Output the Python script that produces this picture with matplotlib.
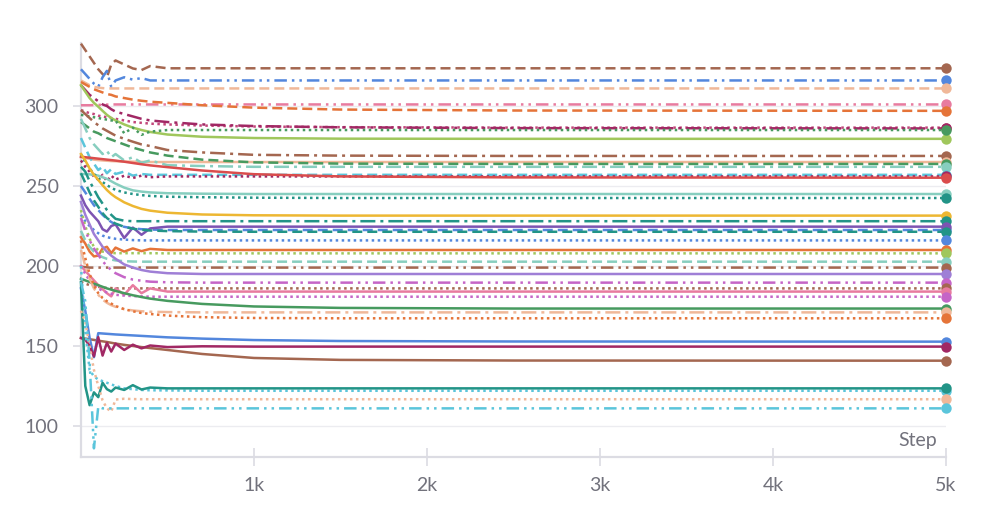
import numpy as np
import matplotlib.pyplot as plt

plt.rcParams['font.family'] = ['Lato', 'DejaVu Sans']

steps = [0, 25, 50, 75, 100, 125, 150, 175, 200, 250, 300, 350, 400, 500, 700, 1000, 1500, 2500, 5000]

brown_dashed = [339, 335, 331, 327, 323, 320, 318, 326, 328.5, 326, 323.5, 322.5, 325, 323.6, 323.6, 323.6, 323.6, 323.6, 323.6]
blue_dashdotdot = [323, 320, 317, 314, 312, 318, 322, 312, 316, 318, 316.5, 317.5, 316, 316, 316, 316, 316, 316, 316]
peach_dashed = [316, 314.5, 313, 312, 311.5, 311.2, 311, 311, 311, 311, 311, 311, 311, 311, 311, 311, 311, 311, 311]
pink_dashdotdot = [300.5, 300.5, 300.5, 300.6, 300.7, 300.8, 300.9, 301, 301, 301, 301, 301, 301, 301, 301, 301, 301, 301, 301]
orange_dashed = [315, 313.5, 312, 310.5, 309.5, 308.5, 307.5, 307, 306, 305, 304, 303.3, 302.7, 302, 300.5, 299, 297.8, 297.2, 297]
maroon_dashdot = [313, 310, 307, 305, 303, 301, 300, 298, 296.5, 295, 293.5, 292, 291, 290, 288.5, 287.5, 286.7, 286.2, 286]
crimson_dotted = [297.5, 296.5, 295.5, 295, 294, 293.5, 293, 292.5, 292, 291, 290, 289.5, 289, 288.5, 287.8, 287.2, 286.8, 286.5, 286.5]
lightgreen_solid = [313, 309, 305, 302, 299.6, 297, 294.5, 292.5, 291, 288.5, 286.5, 285, 283.8, 282.2, 280.8, 280, 279.6, 279.5, 279.5]
green_dotted = [294.5, 294, 293.5, 293, 292.5, 292, 291.5, 291, 291, 283, 286.5, 282, 284, 285, 285, 285, 285, 285, 285]
brown_dashdot = [297.5, 295, 292.5, 290, 288, 286, 284.5, 283, 281.5, 279.5, 277.7, 276, 275, 272.5, 271, 269.5, 269, 268.8, 268.8]
salmon_solid = [268, 267.5, 267, 266.5, 266.2, 266, 265.8, 265.6, 265.5, 265.3, 265.2, 265.1, 265, 265, 265, 265, 265, 265, 265]
green_dashed = [290, 288, 286, 284, 283, 281.5, 280, 279, 278, 276, 274, 272.5, 271, 269, 266.5, 264.8, 264, 263.8, 263.8]
lightteal_dashdot = [292, 286, 280, 276, 273, 270, 272, 268, 270, 266, 268, 264.5, 266, 263, 262.5, 262, 262, 262, 262]
cyan_dashed = [280, 274, 268, 264, 260, 262, 258, 260.5, 257.5, 259, 256.5, 257.5, 257, 257, 257, 257, 257, 257, 257]
red_solid = [268.3, 268, 267.7, 267.4, 267.1, 266.8, 266.5, 266.2, 265.9, 265.2, 264.4, 263.6, 262.9, 261.8, 259.7, 257.4, 256, 255.4, 255.2]
maroon_dotted = [266, 262, 259, 256, 254, 257, 253, 256.5, 254, 256.5, 255, 256.5, 255.5, 256, 256, 256, 256, 256, 256]
lightteal_solid = [257.5, 257.5, 257.3, 257, 256.5, 255.5, 254.5, 253, 251.5, 249, 247.3, 246.5, 246, 245.5, 245.2, 245, 245, 245, 245]
teal_dotted = [270, 265, 261, 257.5, 255, 252.5, 250.5, 249, 247.5, 246, 245, 244.3, 243.8, 243.3, 243, 242.7, 242.5, 242.5, 242.5]
yellow_solid = [270, 266, 261, 257, 253.8, 250.5, 247.5, 245, 243, 239.8, 237.5, 235.7, 234.6, 233.3, 232.2, 231.7, 231.5, 231.5, 231.5]
teal_dashdot = [262, 259, 253, 248, 243, 239, 235, 232, 229.5, 228.3, 228, 228, 228, 228, 228, 228, 228, 228, 228]
purple_solid = [244, 238, 234, 231, 228, 223, 221.5, 225, 226, 217.5, 224, 219.5, 223.5, 224.6, 224.6, 224.6, 224.6, 224.6, 224.6]
teal_dashed = [258, 252, 246, 241, 237, 233, 230, 228, 226.5, 224.5, 223.3, 222.6, 222.2, 221.8, 221.5, 221.4, 221.4, 221.4, 221.4]
blue_dashed = [250, 246, 242, 238, 235, 232, 229.5, 227.5, 226, 224.5, 223.5, 223, 222.8, 222.5, 222.5, 222.5, 222.5, 222.5, 222.5]
blue_dotted = [232, 228, 225, 222.5, 220.5, 219, 218, 217.5, 217, 216.5, 216.2, 216, 216, 216, 216, 216, 216, 216, 216]
orange_solid = [218, 214, 209, 206, 206.5, 211, 212, 208, 211.5, 209, 211, 209.3, 210.7, 210, 210, 210, 210, 210, 210]
lightgreen_dotted = [235, 225, 217, 212, 210, 209, 208.5, 208.2, 208, 208, 208, 208, 208, 207.9, 207.9, 207.9, 207.9, 207.9, 207.9]
lightteal_dashed = [222, 216, 212, 209, 207, 205.5, 204.5, 204, 203.5, 203, 202.8, 202.7, 202.7, 202.7, 202.7, 202.7, 202.7, 202.7, 202.7]
brown_dashdotdot = [199.6, 199.3, 199, 199, 199, 199, 199, 199, 199, 199, 199, 199, 199, 199, 199, 199, 199, 199, 199]
violet_solid = [240, 232, 226, 220, 216, 212, 209, 206.5, 204.5, 201, 199, 197.5, 196.5, 195.5, 195, 195, 195, 195, 195]
orchid_dashdotdot = [230, 222, 216, 211, 207, 203, 200, 197.5, 195.5, 193, 191.5, 190.8, 190.2, 189.8, 189.6, 189.6, 189.6, 189.6, 189.6]
tan_dotted = [190, 189, 188, 187.5, 187, 186.5, 186.3, 186.2, 186, 186, 186, 186, 186, 186, 186, 186, 186, 186, 186]
pink_solid = [200, 197, 194, 191, 188, 185.5, 183, 181, 186, 182, 188, 183, 186, 184, 184, 184, 184, 184, 184]
orchid_dotted = [200, 195, 191, 188, 186, 184.5, 183.5, 182.7, 182, 181.5, 181.2, 181, 180.8, 180.8, 180.8, 180.8, 180.8, 180.8, 180.8]
green_solid = [192, 191, 190, 189, 188, 187, 186, 185.2, 184.4, 183, 181.7, 180.6, 179.6, 178.2, 176.3, 174.7, 173.8, 173.4, 173.4]
peach_dashdot = [210, 200, 192, 186, 182, 179, 177, 175.5, 174.5, 173, 172.2, 171.7, 171.4, 171.2, 171, 171, 171, 171, 171]
orange_dotted = [216, 205, 195, 188, 183, 180, 178, 176.5, 175, 173, 171.7, 170.6, 170, 169, 168, 167.5, 167.3, 167.3, 167.3]
blue_solid = [186, 172, 155, 143, 158, 157.8, 157.6, 157.4, 157.2, 156.9, 156.6, 156.3, 156, 155.4, 154.6, 153.7, 153.1, 152.8, 152.7]
crimson_solid = [155, 154, 150, 143.5, 155.5, 144, 152, 146.5, 151.5, 147.5, 150.8, 148.5, 150.3, 149.3, 149.8, 149.6, 149.6, 149.6, 149.6]
brown_solid = [155, 154.6, 154.2, 153.8, 153.3, 152.9, 152.5, 152, 151.5, 150.7, 150, 149.3, 148.7, 147.5, 145, 142.5, 141.3, 140.9, 140.8]
teal_solid = [190, 125, 113, 121, 118, 127, 123, 121.5, 124, 122.5, 125.5, 122.8, 124, 123.5, 123.5, 123.5, 123.5, 123.5, 123.5]
cyan_dotted = [200, 160, 135, 131, 129, 128, 127, 126, 125, 123.5, 123, 122.5, 122.3, 122.2, 122, 122, 122, 122, 122]
peach_dotted = [172, 165, 150, 135, 125, 116, 111, 109, 116.5, 117, 116.8, 116.7, 116.7, 116.7, 116.7, 116.7, 116.7, 116.7, 116.7]
cyan_dashdotdot = [190, 178, 140, 86, 112, 111, 111, 111, 111, 111, 111, 111, 111, 111, 111, 111, 111, 111, 111]

y_ticks = [100, 150, 200, 250, 300]
x_ticks = [1000, 2000, 3000, 4000, 5000]
x_ticklabels = ['1k', '2k', '3k', '4k', '5k']

SOLID = '-'
DASH = (0, (4, 2))
DASHDOT = (0, (6, 2, 1.2, 2))
DASHDOTDOT = (0, (5, 2, 1, 2, 1, 2))
DOT = (0, (1, 1.4))

series = [
    (brown_dashed, '#A46750', DASH),
    (blue_dashdotdot, '#5387DD', DASHDOTDOT),
    (peach_dashed, '#F0B899', DASH),
    (pink_dashdotdot, '#E87B9F', DASHDOTDOT),
    (orange_dashed, '#E57439', DASH),
    (crimson_dotted, '#C2477A', DOT),
    (maroon_dashdot, '#A12864', DASHDOT),
    (lightgreen_solid, '#A0C75C', SOLID),
    (green_dotted, '#479A5F', DOT),
    (brown_dashdot, '#A46750', DASHDOT),
    (salmon_solid, '#F0B899', SOLID),
    (green_dashed, '#479A5F', DASH),
    (lightteal_dashdot, '#87CEBF', DASHDOT),
    (cyan_dashed, '#5BC5DB', DASH),
    (maroon_dotted, '#A12864', DOT),
    (red_solid, '#DA4C4C', SOLID),
    (lightteal_solid, '#87CEBF', SOLID),
    (teal_dotted, '#229487', DOT),
    (yellow_solid, '#EDB732', SOLID),
    (teal_dashdot, '#229487', DASHDOT),
    (blue_dashed, '#5387DD', DASH),
    (purple_solid, '#7D54B2', SOLID),
    (teal_dashed, '#229487', DASH),
    (blue_dotted, '#5387DD', DOT),
    (orange_solid, '#E57439', SOLID),
    (lightgreen_dotted, '#A0C75C', DOT),
    (lightteal_dashed, '#87CEBF', DASH),
    (brown_dashdotdot, '#A46750', DASHDOTDOT),
    (violet_solid, '#9F7FD6', SOLID),
    (orchid_dashdotdot, '#C565C7', DASHDOTDOT),
    (tan_dotted, '#A46750', DOT),
    (pink_solid, '#E87B9F', SOLID),
    (orchid_dotted, '#C565C7', DOT),
    (green_solid, '#479A5F', SOLID),
    (peach_dashdot, '#F0B899', DASHDOT),
    (orange_dotted, '#E57439', DOT),
    (brown_solid, '#A46750', SOLID),
    (blue_solid, '#5387DD', SOLID),
    (crimson_solid, '#A12864', SOLID),
    (cyan_dotted, '#5BC5DB', DOT),
    (teal_solid, '#229487', SOLID),
    (peach_dotted, '#F0B899', DOT),
    (cyan_dashdotdot, '#5BC5DB', DASHDOTDOT),
]

fig = plt.figure(figsize=(9.97, 5.24), dpi=100)
ax = fig.add_axes([0.0812, 0.1279, 0.8676, 0.79])

for values, color, ls in series:
    ax.plot(steps, values, color=color, linestyle=ls, linewidth=1.8,
            marker='o', markevery=[-1], markersize=7.5, markeredgewidth=0,
            clip_on=False, zorder=3)

ax.set_xlim(0, 5000)
ax.set_ylim(80.6, 339.4)

ax.set_yticks(y_ticks)
ax.set_xticks(x_ticks)
ax.set_xticklabels(x_ticklabels)
ax.grid(axis='y', color='#ececf0', linewidth=1.0, zorder=0)
ax.set_axisbelow(True)

for side in ['top', 'right']:
    ax.spines[side].set_visible(False)
for side in ['left', 'bottom']:
    ax.spines[side].set_color('#dcdce3')
    ax.spines[side].set_linewidth(1.6)

ax.tick_params(axis='y', direction='out', length=6, width=1.2, color='#dcdce3',
               labelsize=14, labelcolor='#72727c', pad=10)
ax.tick_params(axis='x', direction='inout', length=13, width=1.2, color='#dcdce3',
               labelsize=14, labelcolor='#72727c', pad=8)

ax.text(0.99, 0.041, 'Step', transform=ax.transAxes, ha='right', va='center',
        fontsize=14, color='#72727c')

fig.savefig('out.png', dpi=100)
